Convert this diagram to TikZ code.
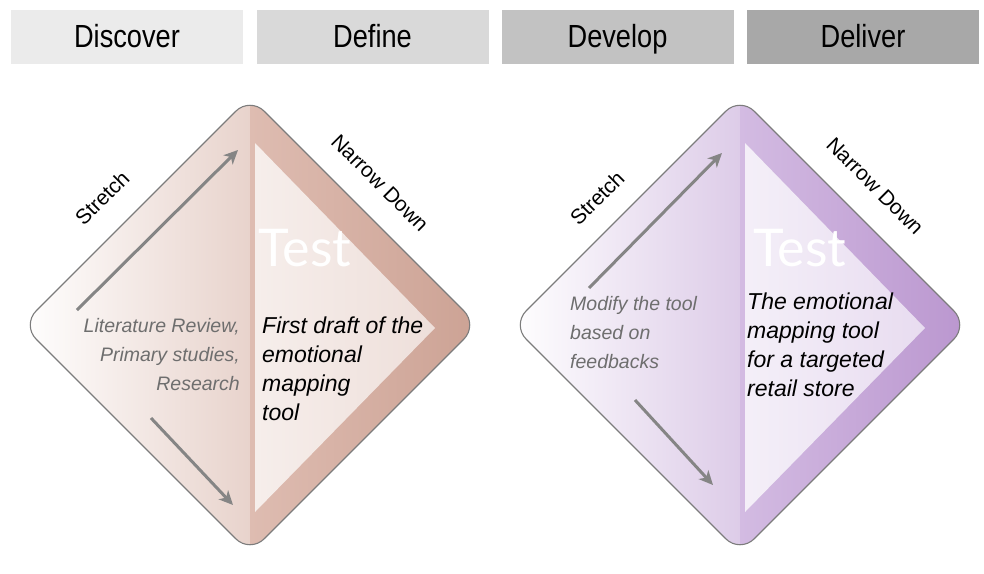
\documentclass[tikz,border=0pt]{standalone}
\usepackage{fontspec}
\setmainfont{Liberation Sans}
\newfontfamily\headfont[FakeStretch=0.85]{Liberation Sans}
\newfontfamily\testfont{Lato}
\usetikzlibrary{arrows.meta}

% phase header greys
\definecolor{discovergrey}{HTML}{EBEBEB}
\definecolor{definegrey}{HTML}{D9D9D9}
\definecolor{developgrey}{HTML}{C2C2C2}
\definecolor{delivergrey}{HTML}{A8A8A8}
% rose diamond
\definecolor{roseA}{HTML}{E8D3CC}
\definecolor{roseB}{HTML}{DEBCB1}
\definecolor{roseC}{HTML}{CCA294}
\definecolor{roseL}{HTML}{F6EEEB}
\definecolor{roseT}{HTML}{EEDFDA}
% lilac diamond
\definecolor{lilacA}{HTML}{DDCCE8}
\definecolor{lilacB}{HTML}{D3BBE2}
\definecolor{lilacC}{HTML}{BA96CF}
\definecolor{lilacL}{HTML}{F4EFF8}
\definecolor{lilacT}{HTML}{E8DCF0}
\definecolor{rimgrey}{HTML}{7C7C7C}
\definecolor{arrowgrey}{HTML}{858585}
\definecolor{notegrey}{HTML}{6E6E6E}

% #1 name prefix, #2 centre x, #3 left-half end colour,
% #4/#5 right band colours, #6/#7 colours of the inner triangle
\newcommand\PhaseDiamond[7]{%
  \coordinate (#1-c) at (#2,325);
  \begin{scope}
    \clip[rounded corners=20pt] (#2-228,325) -- (#2,97) -- (#2+228,325) -- (#2,553) -- cycle;
    \shade[left color=white, right color=#3] (#2-230,95) rectangle (#2,555);
    \shade[left color=#4, right color=#5] (#2,95) rectangle (#2+230,555);
  \end{scope}
  \draw[rim] (#2-228,325) -- (#2,97) -- (#2+228,325) -- (#2,553) -- cycle;
  \shade[left color=#6, right color=#7] (#2+5,143) -- (#2+185,328) -- (#2+5,512) -- cycle;
}

\begin{document}
\begin{tikzpicture}[x=1pt, y=-1pt,
  phase/.style={minimum width=232pt, minimum height=54pt, inner sep=0pt,
    text height=26pt, text depth=4pt,
    font=\headfont\fontsize{32}{32}\selectfont},
  rim/.style={draw=rimgrey, line width=1.1pt, rounded corners=20pt},
  flow/.style={draw=arrowgrey, line width=3pt,
    -{Stealth[length=14pt, width=13pt, inset=4pt]}},
  sidelabel/.style={font=\fontsize{21}{21}\selectfont, inner sep=0pt},
  testlabel/.style={text=white, font=\testfont\fontsize{52}{52}\selectfont, inner sep=0pt},
  grey note/.style={font=\itshape\fontsize{19.5}{29}\selectfont, inner sep=0pt, text=notegrey},
  dark note/.style={font=\itshape\fontsize{23}{29}\selectfont, inner sep=0pt, text=black},
]
\useasboundingbox (0,0) rectangle (984,573);
\fill[white] (0,0) rectangle (984,573);

% phase headers
\node[phase, fill=discovergrey] (discover) at (127,36.5) {Discover};
\node[phase, fill=definegrey]   (define)   at (372.5,36.5) {Define};
\node[phase, fill=developgrey]  (develop)  at (617.5,36.5) {Develop};
\node[phase, fill=delivergrey]  (deliver)  at (863,36.5) {Deliver};

% first diamond: discover / define
\PhaseDiamond{first}{250}{roseA}{roseB}{roseC}{roseL}{roseT}
\coordinate (first-up-s) at (77,310);
\coordinate (first-up-e) at (238,150);
\coordinate (first-dn-s) at (151,418);
\coordinate (first-dn-e) at (233,505);
\draw[flow] (first-up-s) -- (first-up-e);
\draw[flow] (first-dn-s) -- (first-dn-e);
\node[sidelabel, rotate=45]  (first-stretch) at (102,198) {Stretch};
\node[sidelabel, rotate=-45] (first-narrow)  at (380,183) {Narrow Down};
\node[testlabel] (first-test) at (305,248) {Test};
\node[grey note, align=right, anchor=north east] (first-left) at (240,318)
  {Literature Review,\\Primary studies,\\Research};
\node[dark note, align=left, anchor=north west] (first-right) at (262,317)
  {First draft of the\\emotional\\mapping\\tool};

% second diamond: develop / deliver
\PhaseDiamond{second}{740}{lilacA}{lilacB}{lilacC}{lilacL}{lilacT}
\coordinate (second-up-s) at (589,288);
\coordinate (second-up-e) at (722,153);
\coordinate (second-dn-s) at (635,400);
\coordinate (second-dn-e) at (713,485);
\draw[flow] (second-up-s) -- (second-up-e);
\draw[flow] (second-dn-s) -- (second-dn-e);
\node[sidelabel, rotate=45]  (second-stretch) at (597,198) {Stretch};
\node[sidelabel, rotate=-45] (second-narrow)  at (875,186) {Narrow Down};
\node[testlabel] (second-test) at (800,248) {Test};
\node[grey note, align=left, anchor=north west] (second-left) at (570,296)
  {Modify the tool\\based on\\feedbacks};
\node[dark note, align=left, anchor=north west] (second-right) at (747,293)
  {The emotional\\mapping tool\\for a targeted\\retail store};
\end{tikzpicture}
\end{document}
